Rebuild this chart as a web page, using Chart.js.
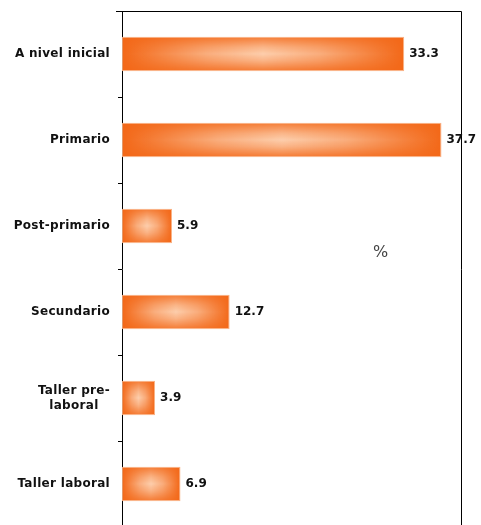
<!DOCTYPE html>
<html>
<head>
<meta charset="utf-8">
<script src="https://cdn.jsdelivr.net/npm/chart.js@4.4.1/dist/chart.umd.min.js"></script>
<style>
  html, body { margin: 0; padding: 0; background: #fff; overflow: hidden; }
  #wrap { width: 481px; height: 540px; }
</style>
</head>
<body>
<div id="wrap"><canvas id="nivelChart" width="481" height="540"></canvas></div>
<script>
const niveles = ['A nivel inicial', 'Primario', 'Post-primario', 'Secundario', ['Taller pre-', 'laboral'], 'Taller laboral'];
const porcentajes = [33.3, 37.7, 5.9, 12.7, 3.9, 6.9];
const ejeMax = 40;

const labelFont = 'bold 12px "DejaVu Sans"';
const valueFont = 'bold 12px "DejaVu Sans"';

// shaded bar: deep orange edges, pale centre
function barFill(context) {
    const chart = context.chart;
    if (!chart.chartArea || context.raw == null) return '#f36a1e';
    const x = chart.scales.x, y = chart.scales.y;
    const x0 = x.getPixelForValue(0);
    const x1 = x.getPixelForValue(context.raw);
    const band = Math.abs(y.getPixelForValue(1) - y.getPixelForValue(0));
    const h = band * 0.4;
    const yTop = y.getPixelForValue(context.dataIndex) - h / 2;
    const w = Math.max(2, Math.round(x1 - x0));
    const hh = Math.max(2, Math.round(h));

    const off = document.createElement('canvas');
    off.width = w; off.height = hh;
    const c = off.getContext('2d');
    c.fillStyle = '#f36818';
    c.fillRect(0, 0, w, hh);

    const glow = document.createElement('canvas');
    glow.width = w; glow.height = hh;
    const g = glow.getContext('2d');
    const gh = g.createLinearGradient(0, 0, w, 0);
    gh.addColorStop(0, 'rgba(255,232,210,0)');
    gh.addColorStop(0.3, 'rgba(255,232,210,0.55)');
    gh.addColorStop(0.5, 'rgba(255,232,210,0.8)');
    gh.addColorStop(0.7, 'rgba(255,232,210,0.55)');
    gh.addColorStop(1, 'rgba(255,232,210,0)');
    g.fillStyle = gh;
    g.fillRect(0, 0, w, hh);
    g.globalCompositeOperation = 'destination-in';
    const gv = g.createLinearGradient(0, 0, 0, hh);
    gv.addColorStop(0, 'rgba(0,0,0,0.2)');
    gv.addColorStop(0.3, 'rgba(0,0,0,0.75)');
    gv.addColorStop(0.5, 'rgba(0,0,0,1)');
    gv.addColorStop(0.7, 'rgba(0,0,0,0.75)');
    gv.addColorStop(1, 'rgba(0,0,0,0.2)');
    g.fillStyle = gv;
    g.fillRect(0, 0, w, hh);

    c.drawImage(glow, 0, 0);
    const pattern = chart.ctx.createPattern(off, 'no-repeat');
    pattern.setTransform(new DOMMatrix().translate(x0, yTop));
    return pattern;
}

// frame on top and right, category names, value labels and the % title
const decor = {
    id: 'decor',
    afterDraw(chart) {
        const ctx = chart.ctx;
        const area = chart.chartArea;
        const yScale = chart.scales.y;
        const xScale = chart.scales.x;
        ctx.save();
        ctx.strokeStyle = '#000';
        ctx.lineWidth = 1;
        ctx.beginPath();
        ctx.moveTo(area.left - 6, area.top + 0.5);
        ctx.lineTo(area.right + 0.5, area.top + 0.5);
        ctx.lineTo(area.right + 0.5, area.bottom);
        ctx.stroke();

        // category names, multi-line ones centred on their widest line
        ctx.font = labelFont;
        ctx.letterSpacing = '0.3px';
        ctx.fillStyle = '#111';
        ctx.textBaseline = 'middle';
        ctx.textAlign = 'center';
        const rightEdge = area.left - 12;
        niveles.forEach((lab, i) => {
            const lines = Array.isArray(lab) ? lab : [lab];
            const widest = Math.max(...lines.map(l => ctx.measureText(l).width));
            const cx = rightEdge - widest / 2;
            const cy = yScale.getPixelForValue(i);
            const lh = 15;
            lines.forEach((l, k) => {
                ctx.fillText(l, cx, cy + (k - (lines.length - 1) / 2) * lh);
            });
        });

        // bar values
        ctx.font = valueFont;
        ctx.letterSpacing = '0px';
        ctx.textAlign = 'left';
        const meta = chart.getDatasetMeta(0);
        meta.data.forEach((bar, i) => {
            ctx.fillText(porcentajes[i].toFixed(1), bar.x + 5, bar.y);
        });

        ctx.font = '16px "DejaVu Sans"';
        ctx.fillStyle = '#444';
        ctx.textAlign = 'center';
        ctx.fillText('%', xScale.getPixelForValue(30.5), yScale.getPixelForValue(2.31));
        ctx.restore();
    }
};

new Chart(document.getElementById('nivelChart'), {
    type: 'bar',
    data: {
        labels: niveles,
        datasets: [{
            data: porcentajes,
            backgroundColor: barFill,
            borderColor: 'rgba(250,170,120,0.9)',
            borderWidth: 1,
            borderSkipped: false,
            barPercentage: 0.4,
            categoryPercentage: 1.0
        }]
    },
    plugins: [decor],
    options: {
        indexAxis: 'y',
        responsive: false,
        animation: false,
        layout: { padding: { top: 11, right: 20, bottom: 13, left: 0 } },
        plugins: {
            legend: { display: false },
            tooltip: { enabled: false }
        },
        scales: {
            x: {
                display: false,
                min: 0,
                max: ejeMax
            },
            y: {
                afterFit: function (scale) { scale.width = 122; },
                border: { color: '#000', width: 1 },
                grid: {
                    drawOnChartArea: false,
                    color: '#000',
                    tickLength: 4,
                    offset: true
                },
                ticks: { display: false }
            }
        }
    }
});
</script>
</body>
</html>
